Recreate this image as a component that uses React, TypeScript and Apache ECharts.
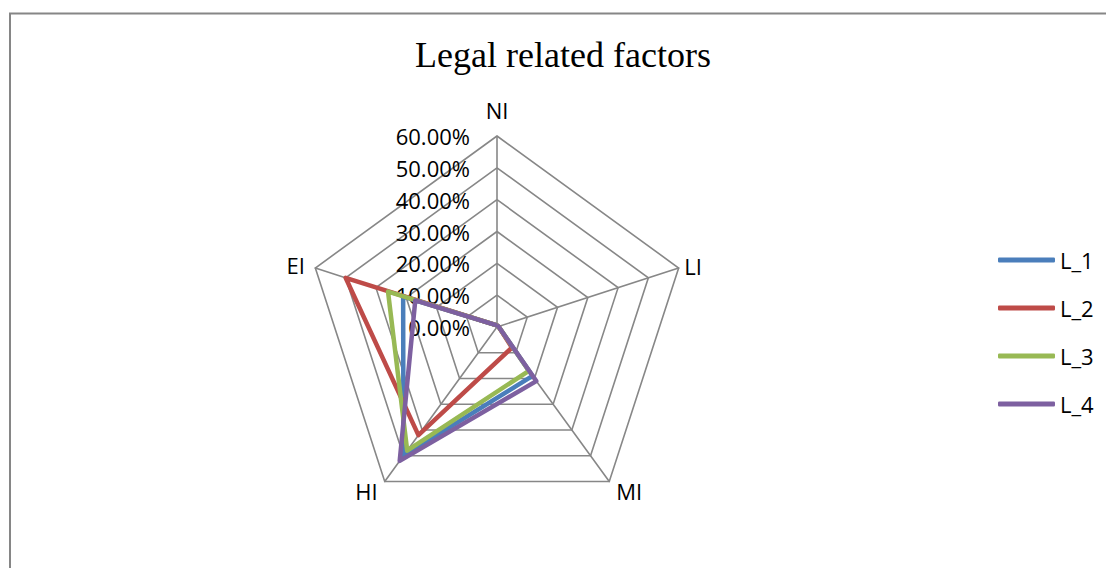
import React, { useEffect, useRef } from 'react';
import * as echarts from 'echarts';

const chartTitle = 'Legal related factors';
const indicatorNames = ['NI', 'LI', 'MI', 'HI', 'EI'];
const seriesNames = ['L_1', 'L_2', 'L_3', 'L_4'];
const L_1 = [0.5, 0.5, 19, 50, 31];
const L_2 = [0.5, 0.5, 8, 42, 50];
const L_3 = [0.5, 0.5, 17, 48, 36];
const L_4 = [0.5, 0.5, 21, 52, 27];
const axisMax = 60;
const axisSplits = 6;
const seriesColors = ['#4A7EBB', '#BE4B48', '#98B954', '#7D60A0'];

export default function App() {
  const ref = useRef<HTMLDivElement>(null);
  useEffect(() => {
    document.body.style.margin = '0';
    const chart = echarts.init(ref.current!, null, { renderer: 'svg' });
    // ECharts radar runs counter-clockwise; reorder so the picture runs clockwise
    const order = [0, 4, 3, 2, 1];
    const nameGaps = [15, 6, 12, 12, 11];
    const values = [L_1, L_2, L_3, L_4];
    chart.setOption({
      animation: false,
      backgroundColor: '#ffffff',
      title: {
        text: chartTitle,
        left: 563,
        top: 37,
        padding: 0,
        textAlign: 'center',
        textStyle: {
          fontFamily: 'Liberation Serif',
          fontSize: 36,
          fontWeight: 'normal',
          color: '#000000',
        },
      },
      legend: {
        orient: 'vertical',
        left: 993,
        top: 244,
        itemWidth: 57,
        itemHeight: 5,
        itemGap: 26,
        icon: 'roundRect',
        data: seriesNames,
        textStyle: { fontFamily: 'Open Sans', fontSize: 22, color: '#000000' },
      },
      graphic: [
        {
          type: 'rect',
          silent: true,
          z: -10,
          shape: { x: 10, y: 13.5, width: 1200, height: 600 },
          style: { fill: 'none', stroke: '#868686', lineWidth: 2 },
        },
      ],
      radar: {
        center: [497, 327],
        radius: 191,
        startAngle: 90,
        splitNumber: axisSplits,
        shape: 'polygon',
        axisName: { color: '#000000', fontFamily: 'Open Sans', fontSize: 22 },
        splitLine: { lineStyle: { color: '#878787', width: 1.6 } },
        splitArea: { show: false },
        axisLine: { lineStyle: { color: '#878787', width: 1.6 } },
        axisTick: { show: false },
        axisLabel: { show: false },
        indicator: order.map((k, i) => {
          const ind: any = { name: indicatorNames[k], min: 0, max: axisMax, nameGap: nameGaps[k] };
          if (i === 0) {
            ind.axisLabel = {
              show: true,
              margin: 27,
              fontFamily: 'Open Sans',
              fontSize: 22,
              color: '#000000',
              formatter: (v: number) => v.toFixed(2) + '%',
            };
          }
          return ind;
        }),
      },
      series: seriesNames.map((name, i) => ({
        type: 'radar',
        name,
        symbol: 'none',
        color: seriesColors[i],
        lineStyle: { width: 4.5, color: seriesColors[i] },
        itemStyle: { color: seriesColors[i] },
        data: [{ name, value: order.map((k) => values[i][k]) }],
      })),
    });
    return () => chart.dispose();
  }, []);
  return <div ref={ref} style={{ width: 1106, height: 568 }} />;
}
